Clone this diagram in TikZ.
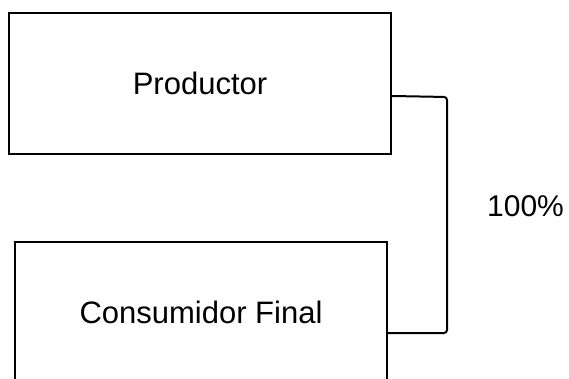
\documentclass[tikz,border=0pt]{standalone}
\usepackage{fontspec}
\setmainfont{Liberation Sans}
\begin{document}
\begin{tikzpicture}[x=1pt,y=-1pt,
  boxnode/.style={draw,line width=2pt,inner sep=0pt,text height=22pt,text depth=0pt,font=\fontsize{31}{31}\selectfont},
  link/.style={line width=2pt,rounded corners=3pt}]
\useasboundingbox (0,0) rectangle (569,379);
\clip (0,0) rectangle (569,379);
\fill[white] (0,0) rectangle (569,379);
\node[boxnode,minimum width=382pt,minimum height=141pt] (p) at (200,83.5) {Productor};
\node[boxnode,minimum width=372pt,minimum height=140pt] (c) at (201,312) {Consumidor Final};
\node[inner sep=0pt,text height=21.5pt,text depth=0pt,font=\fontsize{30}{30}\selectfont] (pct) at (525.5,206) {100\%};
\coordinate (a) at ([yshift=-12.5pt]p.east);
\coordinate (b) at ([yshift=-21pt]c.east);
\draw[link] (a) -- (447,97) -- (447,333) -- (b);
\end{tikzpicture}
\end{document}
